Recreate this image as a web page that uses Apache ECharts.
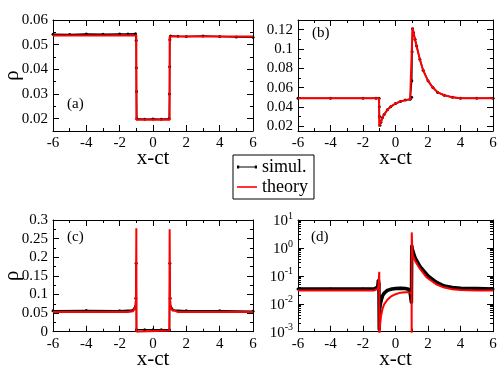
<!DOCTYPE html>
<html>
<head>
<meta charset="utf-8">
<script src="https://cdn.jsdelivr.net/npm/echarts@6/dist/echarts.min.js"></script>
<style>
html,body{margin:0;padding:0;background:#fff;}
#main{width:498px;height:365px;}
</style>
</head>
<body>
<div id="main"></div>
<script>
// x ticks shared by all panels
var xMajor = [-6, -4, -2, 0, 2, 4, 6];
var xMinor = [-5, -3, -1, 1, 3, 5];

// (a)
var aSimX = [-6, -5, -4, -3, -2, -1.5, -1.05, -1.01, -1.0, -0.99, -0.97, -0.5, 0, 0.5, 0.97, 0.99, 1.0, 1.01, 1.05, 1.5, 2, 3, 4, 5, 6];
var aSimY = [0.0542, 0.0541, 0.0543, 0.0542, 0.0543, 0.0543, 0.0544, 0.0517, 0.0406, 0.031, 0.0200, 0.0198, 0.0199, 0.0198, 0.0200, 0.030, 0.041, 0.052, 0.0535, 0.0534, 0.0533, 0.0535, 0.0533, 0.0531, 0.0530];
var aThX = [-6, -1.0, -1.0, 1.0, 1.0, 6];
var aThY = [0.0537, 0.0537, 0.0196, 0.0196, 0.0533, 0.0533];
var aYMajor = [0.02, 0.03, 0.04, 0.05, 0.06];
var aYMinor = [0.025, 0.035, 0.045, 0.055];

// (b)
var bSimX = [-6, -4, -2, -1.2, -1.01, -1.0, -0.99, -0.96, -0.9, -0.8, -0.7, -0.5, -0.3, 0, 0.3, 0.6, 0.9, 0.99, 1.0, 1.02, 1.05, 1.1, 1.2, 1.3, 1.5, 1.7, 2, 2.3, 2.6, 3, 3.5, 4, 5, 6];
var bSimY = [0.049, 0.049, 0.049, 0.049, 0.049, 0.040, 0.030, 0.021, 0.024, 0.029, 0.032, 0.037, 0.040, 0.0435, 0.0455, 0.047, 0.048, 0.050, 0.067, 0.097, 0.121, 0.117, 0.110, 0.103, 0.089, 0.078, 0.067, 0.060, 0.055, 0.052, 0.050, 0.049, 0.049, 0.049];
var bThX = [-6, -1.01, -1.0, -0.95, -0.9, -0.8, -0.7, -0.5, -0.3, 0, 0.3, 0.6, 0.9, 0.99, 1.0, 1.05, 1.1, 1.2, 1.3, 1.5, 1.7, 2, 2.3, 2.6, 3, 3.5, 4, 5, 6];
var bThY = [0.049, 0.049, 0.020, 0.021, 0.024, 0.029, 0.032, 0.037, 0.040, 0.0435, 0.0455, 0.047, 0.048, 0.049, 0.050, 0.122, 0.118, 0.110, 0.103, 0.089, 0.078, 0.067, 0.060, 0.055, 0.052, 0.050, 0.049, 0.049, 0.049];
var bYMajor = [0.02, 0.04, 0.06, 0.08, 0.1, 0.12];
var bYMinor = [0.03, 0.05, 0.07, 0.09, 0.11];

// (c)
var cSimX = [-6, -4, -2, -1.2, -1.1, -1.05, -1.03, -1.01, -0.99, -0.5, 0, 0.5, 0.99, 1.01, 1.03, 1.05, 1.1, 1.2, 2, 4, 6];
var cSimY = [0.056, 0.057, 0.056, 0.058, 0.063, 0.068, 0.090, 0.184, 0.005, 0.005, 0.005, 0.005, 0.005, 0.184, 0.090, 0.068, 0.063, 0.058, 0.056, 0.056, 0.055];
var cThX = [-6, -1.5, -1.2, -1.1, -1.05, -1.02, -1.0, -0.99, -0.98, 0.98, 0.99, 1.0, 1.02, 1.05, 1.1, 1.2, 1.5, 6];
var cThY = [0.053, 0.053, 0.055, 0.060, 0.068, 0.090, 0.278, 0.0, 0.003, 0.003, 0.0, 0.275, 0.090, 0.068, 0.060, 0.055, 0.053, 0.053];
var cYMajor = [0, 0.05, 0.1, 0.15, 0.2, 0.25, 0.3];
var cYMinor = [0.025, 0.075, 0.125, 0.175, 0.225, 0.275];

// (d)
var dSimX = [-6, -4, -2, -1.3, -1.1, -1.05, -1.02, -1.0, -0.98, -0.95, -0.9, -0.8, -0.7, -0.5, -0.3, 0, 0.3, 0.6, 0.8, 0.9, 0.95, 0.98, 1.0, 1.03, 1.06, 1.2, 1.5, 2, 2.5, 3, 3.5, 4, 5, 6];
var dSimY = [0.034, 0.034, 0.034, 0.034, 0.040, 0.070, 0.050, 0.0012, 0.005, 0.0085, 0.012, 0.019, 0.024, 0.030, 0.033, 0.035, 0.036, 0.035, 0.033, 0.025, 0.015, 0.011, 1.2, 0.95, 0.8, 0.45, 0.22, 0.10, 0.060, 0.043, 0.038, 0.036, 0.035, 0.034];
var dThX = [-6, -1.3, -1.1, -1.05, -1.02, -1.0, -0.995, -0.98, -0.95, -0.9, -0.8, -0.7, -0.5, -0.3, 0, 0.3, 0.6, 0.8, 0.95, 0.99, 0.995, 1.0, 1.03, 1.06, 1.2, 1.5, 1.9, 2.5, 3, 3.5, 4, 5, 6];
var dThY = [0.030, 0.030, 0.034, 0.045, 0.080, 0.14, 0.0005, 0.0008, 0.002, 0.0035, 0.0065, 0.0095, 0.014, 0.018, 0.022, 0.025, 0.026, 0.026, 0.024, 0.020, 0.0005, 3.6, 1.0, 0.55, 0.35, 0.18, 0.09, 0.05, 0.038, 0.033, 0.031, 0.030, 0.030];
var dYMajor = [0.001, 0.01, 0.1, 1, 10];
var dYMinor = [];
[0.001, 0.01, 0.1, 1].forEach(function (d) {
    for (var k = 2; k <= 9; k++) dYMinor.push(d * k);
});

var FONT = "'Liberation Serif', 'Times New Roman', serif";

function zip(xs, ys) {
    var out = [];
    for (var i = 0; i < xs.length; i++) out.push([xs[i], ys[i]]);
    return out;
}

function expLabel(v) {
    var e = Math.round(Math.log(v) / Math.LN10);
    return '{b|10}{s|' + e + '}';
}

var panels = [
    {tag: '(a)', grid: {left: 53, top: 20, width: 200, height: 111}, type: 'value', min: 0.015, max: 0.06, major: aYMajor, minor: aYMinor, yname: 'ρ',
        sim: zip(aSimX, aSimY), th: zip(aThX, aThY), simW: 1.5, tagPos: [67, 97]},
    {tag: '(b)', grid: {left: 298, top: 20, width: 195, height: 111}, type: 'value', min: 0.015, max: 0.13, major: bYMajor, minor: bYMinor, yname: '',
        sim: zip(bSimX, bSimY), th: zip(bThX, bThY), simW: 1.5, tagPos: [312, 26]},
    {tag: '(c)', grid: {left: 53, top: 220, width: 200, height: 111.7}, type: 'value', min: 0, max: 0.3, major: cYMajor, minor: cYMinor, yname: 'ρ',
        sim: zip(cSimX, cSimY), th: zip(cThX, cThY), simW: 1.5, tagPos: [67, 230]},
    {tag: '(d)', grid: {left: 298, top: 220, width: 195, height: 111.7}, type: 'log', min: 0.001, max: 10, major: dYMajor, minor: dYMinor, yname: '',
        sim: zip(dSimX, dSimY), th: zip(dThX, dThY), simW: 3.5, tagPos: [311, 230]}
];

function axis(gi, pos, type, min, max, ticks, len, main, labels, fmt) {
    var a = {
        type: type, gridIndex: gi, position: pos, min: min, max: max,
        axisLine: {show: main, onZero: false, lineStyle: {color: '#000', width: 1}},
        axisTick: {show: true, inside: true, length: len, customValues: ticks, lineStyle: {color: '#000', width: 1}},
        axisLabel: {show: !!labels, margin: 5, color: '#000', fontFamily: FONT, fontSize: 15},
        splitLine: {show: false},
        minorTick: {show: false}
    };
    if (type === 'log') a.logBase = 10;
    if (labels) {
        a.axisLabel.customValues = labels;
        if (fmt) a.axisLabel.formatter = fmt;
    }
    return a;
}

var grids = [], xAxes = [], yAxes = [], series = [], graphics = [];
panels.forEach(function (p, gi) {
    var g = p.grid;
    g.containLabel = false;
    g.outerBoundsMode = 'none';
    grids.push(g);

    var xb = axis(gi, 'bottom', 'value', -6, 6, xMajor, 6, true, xMajor);
    xb.name = 'x-ct';
    xb.nameLocation = 'middle';
    xb.nameGap = 17;
    xb.nameMoveOverlap = false;
    xb.nameTextStyle = {fontFamily: FONT, fontSize: 21, color: '#000'};
    xAxes.push(xb);
    xAxes.push(axis(gi, 'bottom', 'value', -6, 6, xMinor, 3, false));
    xAxes.push(axis(gi, 'top', 'value', -6, 6, xMajor, 6, true));
    xAxes.push(axis(gi, 'top', 'value', -6, 6, xMinor, 3, false));

    var fmt = null;
    if (p.type === 'log') fmt = expLabel;
    var yl = axis(gi, 'left', p.type, p.min, p.max, p.major, 6, true, p.major, fmt);
    if (p.type === 'log') {
        yl.axisLabel.rich = {
            b: {fontFamily: FONT, fontSize: 15, color: '#000', verticalAlign: 'bottom', lineHeight: 18},
            s: {fontFamily: FONT, fontSize: 10, color: '#000', verticalAlign: 'top', lineHeight: 18}
        };
    }
    if (p.yname) {
        yl.name = p.yname;
        yl.nameLocation = 'middle';
        yl.nameGap = 30;
        yl.nameRotate = 90;
        yl.nameMoveOverlap = false;
        yl.nameTextStyle = {fontFamily: FONT, fontSize: 21, color: '#000'};
    }
    yAxes.push(yl);
    yAxes.push(axis(gi, 'left', p.type, p.min, p.max, p.minor, 3, false));
    yAxes.push(axis(gi, 'right', p.type, p.min, p.max, p.major, 6, true));
    yAxes.push(axis(gi, 'right', p.type, p.min, p.max, p.minor, 3, false));

    series.push({
        name: 'simul.', type: 'line', xAxisIndex: gi * 4, yAxisIndex: gi * 4,
        data: p.sim, symbol: 'circle', symbolSize: 3, showSymbol: true, clip: true,
        itemStyle: {color: '#000'}, lineStyle: {color: '#000', width: p.simW}, z: 2
    });
    series.push({
        name: 'theory', type: 'line', xAxisIndex: gi * 4, yAxisIndex: gi * 4,
        data: p.th, showSymbol: false, symbol: 'none', clip: true,
        itemStyle: {color: '#ff0000'}, lineStyle: {color: '#ff0000', width: 2}, z: 3
    });

    graphics.push({
        type: 'text', left: p.tagPos[0], top: p.tagPos[1],
        style: {text: p.tag, fontFamily: FONT, fontSize: 15, fill: '#000'}
    });
});

var myChart = echarts.init(document.getElementById('main'));
var option = {
    animation: false,
    backgroundColor: '#fff',
    textStyle: {fontFamily: FONT},
    grid: grids,
    xAxis: xAxes,
    yAxis: yAxes,
    series: series,
    graphic: graphics,
    legend: {
        data: [
            {name: 'simul.', icon: 'path://M0,2 L20,2 L20,3 L0,3 Z M0,0.9 L2.2,0.9 L2.2,4.1 L0,4.1 Z M17.8,0.9 L20,0.9 L20,4.1 L17.8,4.1 Z'},
            {name: 'theory', icon: 'path://M0,0 L20,0 L20,1.6 L0,1.6 Z'}
        ],
        orient: 'vertical',
        left: 233, top: 155,
        borderColor: '#000', borderWidth: 1, borderRadius: 0,
        padding: [3, 6, 3, 4],
        itemGap: 2,
        itemWidth: 20, itemHeight: 5,
        textStyle: {fontFamily: FONT, fontSize: 18, color: '#000'}
    }
};
myChart.setOption(option);
</script>
</body>
</html>
